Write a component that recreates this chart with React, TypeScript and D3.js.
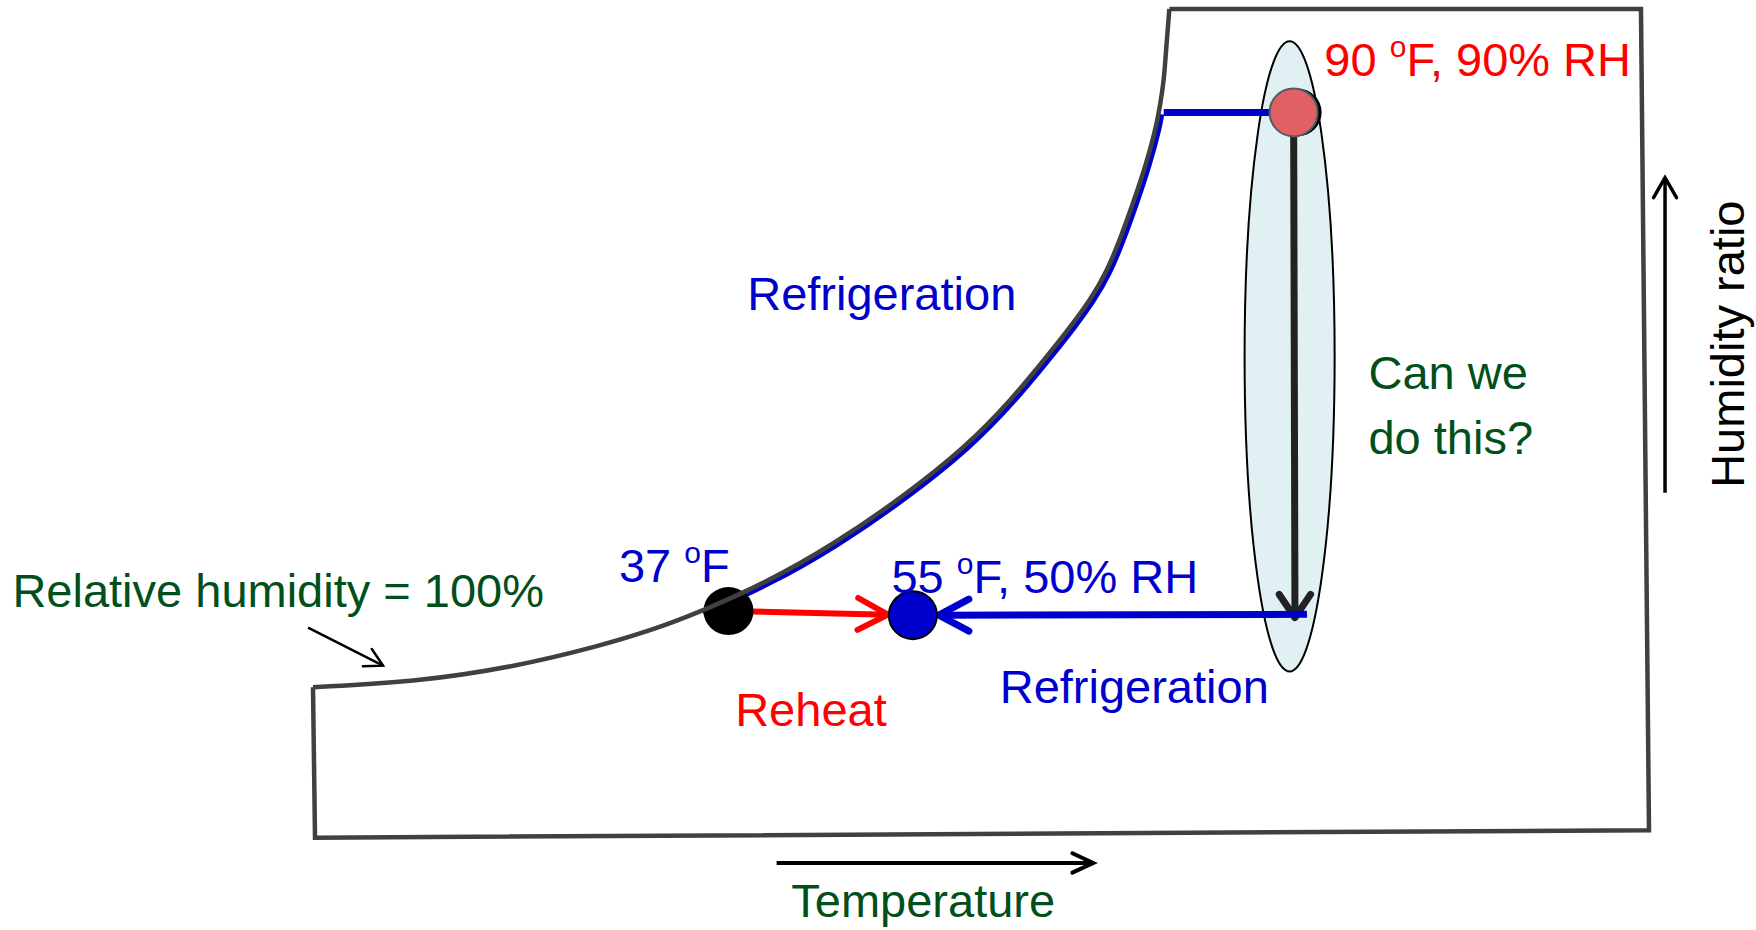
import * as d3 from 'd3';

const W = 1756;
const H = 930;

// schematic psychrometric chart, both axes in 0-100 chart units
// saturation curve (relative humidity = 100%)
const satTemp = [0, 7.5, 15.0, 21.5, 25.2, 29.0, 34.0, 38.9, 43.9, 49.0, 52.4, 54.9, 56.9, 58.2, 59.4, 60.4, 61.4, 62.4, 63.2, 63.5, 63.7, 63.9, 64.1];
const satHum = [18.0, 18.6, 20.4, 23.0, 24.8, 27.1, 30.7, 35.2, 40.7, 47.2, 53.0, 57.9, 62.0, 64.9, 68.2, 72.1, 76.6, 81.4, 86.3, 89.4, 91.5, 96.1, 100];

// rest of the chart outline, from the top of the saturation curve round to its foot
const frameTemp = [64.1, 99.4, 100, 0.15, 0];
const frameHum = [100, 100, 0.7, -0.2, 18.0];

// air states: outside, after coil, supply
const stateTemp = [73.4, 31.1, 44.9];
const stateHum = [87.5, 27.2, 26.7];

// where sensible cooling of outside air meets the saturation curve
const dewPoint = [63.3, 87.5];

// direct path ("can we do this?") and its highlight oval
const directEnd = [73.5, 26.4];
const refrigStart = [74.4, 26.8];
const ovalCenter = [73.1, 58.0];
const ovalRadius = [3.37, 38.1];

// axis direction arrows
const tempArrow = [[34.7, -3.26], [58.4, -3.26]];
const humArrow = [[101.2, 41.5], [101.2, 79.6]];
const rhPointer = [[-0.37, 25.2], [5.24, 20.6]];

// labels: [before superscript, superscript, after], anchor in chart units
const labelText = [
  ['90 ', 'o', 'F, 90% RH'],
  ['37 ', 'o', 'F'],
  ['55 ', 'o', 'F, 50% RH'],
  ['Refrigeration', '', ''],
  ['Refrigeration', '', ''],
  ['Reheat', '', ''],
  ['Relative humidity = 100%', '', ''],
  ['Can we', '', ''],
  ['do this?', '', ''],
  ['Temperature', '', ''],
];
const labelTemp = [75.7, 22.9, 43.3, 32.5, 51.4, 31.6, -22.5, 79.0, 79.0, 35.8];
const labelHum = [91.9, 30.7, 29.4, 63.6, 16.1, 13.3, 27.7, 54.1, 46.2, -9.8];

const RED = '#FF0000';
const BLUE = '#0000CC';
const GREEN = '#014F1B';
const DARK = '#404040';
const labelColor = [RED, BLUE, BLUE, BLUE, BLUE, RED, GREEN, GREEN, GREEN, GREEN];

const FONT = 'Arial, "Liberation Sans", sans-serif';

function arrow(x1: number, y1: number, x2: number, y2: number, len: number, deg: number) {
  const a = Math.atan2(y2 - y1, x2 - x1);
  const t = (deg * Math.PI) / 180;
  const p1 = [x2 - len * Math.cos(a - t), y2 - len * Math.sin(a - t)];
  const p2 = [x2 - len * Math.cos(a + t), y2 - len * Math.sin(a + t)];
  return {
    shaft: `M${x1},${y1}L${x2},${y2}`,
    head: `M${p1[0]},${p1[1]}L${x2},${y2}L${p2[0]},${p2[1]}`,
  };
}

// move a point along a segment by d pixels
function along(x1: number, y1: number, x2: number, y2: number, d: number) {
  const L = Math.hypot(x2 - x1, y2 - y1);
  return [x1 + ((x2 - x1) * d) / L, y1 + ((y2 - y1) * d) / L];
}

export default function App() {
  const x = d3.scaleLinear().domain([0, 100]).range([313, 1649]);
  const y = d3.scaleLinear().domain([0, 100]).range([836, 9]);

  const satPts: [number, number][] = satTemp.map((t, i) => [t, satHum[i]]);
  const line = d3
    .line<[number, number]>()
    .x((d) => x(d[0]))
    .y((d) => y(d[1]))
    .curve(d3.curveBasis);

  // refrigeration follows the saturation curve from the dew point down to 37 F
  const coolPts: [number, number][] = [
    ...satPts.filter((d) => d[0] >= 29 && d[1] < dewPoint[1]),
    [dewPoint[0], dewPoint[1]],
  ];

  const framePath = d3
    .line<number>()
    .x((i) => x(frameTemp[i]))
    .y((i) => y(frameHum[i]))(frameTemp.map((_, i) => i));

  const R = 24;
  const [hotX, hotY] = [x(stateTemp[0]), y(stateHum[0])];
  const [coldX, coldY] = [x(stateTemp[1]), y(stateHum[1])];
  const [supX, supY] = [x(stateTemp[2]), y(stateHum[2])];

  // reheat: 37F -> 55F
  const rs = along(coldX, coldY, supX, supY, R);
  const re = along(supX, supY, coldX, coldY, R + 1);
  const reheat = arrow(rs[0], rs[1], re[0], re[1], 34, 28);

  // refrigeration straight to the supply state
  const fsx = x(refrigStart[0]);
  const fsy = y(refrigStart[1]);
  const fe = along(supX, supY, fsx, fsy, R + 2);
  const refrig = arrow(fsx, fsy, fe[0], fe[1], 34, 28);

  // direct vertical drop
  const drop = arrow(hotX, hotY, x(directEnd[0]), y(directEnd[1]), 28, 34);

  const tA = arrow(x(tempArrow[0][0]), y(tempArrow[0][1]), x(tempArrow[1][0]), y(tempArrow[1][1]), 23, 25);
  const hA = arrow(x(humArrow[0][0]), y(humArrow[0][1]), x(humArrow[1][0]), y(humArrow[1][1]), 23, 30);
  const rA = arrow(x(rhPointer[0][0]), y(rhPointer[0][1]), x(rhPointer[1][0]), y(rhPointer[1][1]), 20, 29);

  return (
    <svg
      width={W}
      height={H}
      style={{ position: 'absolute', left: 0, top: 0, background: '#fff' }}
      fontFamily={FONT}
    >
      {/* highlight oval */}
      <ellipse
        cx={x(ovalCenter[0])}
        cy={y(ovalCenter[1])}
        rx={x(ovalCenter[0] + ovalRadius[0]) - x(ovalCenter[0])}
        ry={y(ovalCenter[1]) - y(ovalCenter[1] + ovalRadius[1])}
        fill="#E0F0F3"
        stroke="#000"
        strokeWidth={2}
      />

      {/* chart outline */}
      <path d={framePath || ''} fill="none" stroke={DARK} strokeWidth={4.5} strokeLinejoin="miter" />

      {/* refrigeration along the saturation curve */}
      <path
        d={line(coolPts) || ''}
        fill="none"
        stroke={BLUE}
        strokeWidth={5}
        transform="translate(3,2)"
      />

      {/* sensible cooling to saturation */}
      <line
        x1={x(dewPoint[0]) + 5}
        y1={hotY}
        x2={hotX}
        y2={hotY}
        stroke={BLUE}
        strokeWidth={7}
      />

      {/* direct drop */}
      <path d={drop.shaft} stroke="#222" strokeWidth={7} fill="none" />
      <path d={drop.head} stroke="#222" strokeWidth={7} fill="none" strokeLinecap="round" strokeLinejoin="round" />

      {/* refrigeration to supply */}
      <path d={refrig.shaft} stroke={BLUE} strokeWidth={7} fill="none" />
      <path d={refrig.head} stroke={BLUE} strokeWidth={7} fill="none" strokeLinecap="round" strokeLinejoin="round" />

      {/* reheat */}
      <path d={reheat.shaft} stroke={RED} strokeWidth={6} fill="none" />
      <path d={reheat.head} stroke={RED} strokeWidth={6} fill="none" strokeLinecap="round" strokeLinejoin="round" />

      {/* states */}
      <circle cx={hotX + 4} cy={hotY} r={R} fill="#000" />
      <circle cx={hotX} cy={hotY} r={R} fill="#E06064" stroke="#505C62" strokeWidth={2} />
      <ellipse cx={coldX} cy={coldY} rx={R + 1} ry={R} fill="#000" />
      <circle cx={supX} cy={supY} r={R} fill={BLUE} stroke="#000" strokeWidth={2} />

      {/* saturation curve, drawn over the 37 F point */}
      <path d={line(satPts) || ''} fill="none" stroke={DARK} strokeWidth={4.5} />

      {/* labels */}
      {labelText.map((parts, i) => (
        <text key={i} x={x(labelTemp[i])} y={y(labelHum[i])} fontSize={47} fill={labelColor[i]}>
          {parts[0]}
          {parts[1] && (
            <tspan dy={-19} fontSize={30}>
              {parts[1]}
            </tspan>
          )}
          {parts[1] && <tspan dy={19}>{parts[2]}</tspan>}
        </text>
      ))}

      {/* axis arrows */}
      <path d={tA.shaft} stroke="#000" strokeWidth={4} fill="none" />
      <path d={tA.head} stroke="#000" strokeWidth={4} fill="none" strokeLinecap="round" />
      <path d={hA.shaft} stroke="#000" strokeWidth={3.5} fill="none" />
      <path d={hA.head} stroke="#000" strokeWidth={3.5} fill="none" strokeLinecap="round" />
      <path d={rA.shaft} stroke="#000" strokeWidth={2.5} fill="none" />
      <path d={rA.head} stroke="#000" strokeWidth={2.5} fill="none" strokeLinecap="round" />

      <text
        transform={`translate(${x(107.1)},${y(42.1)}) rotate(-90)`}
        fontSize={47}
        fill="#000"
      >
        Humidity ratio
      </text>
    </svg>
  );
}
